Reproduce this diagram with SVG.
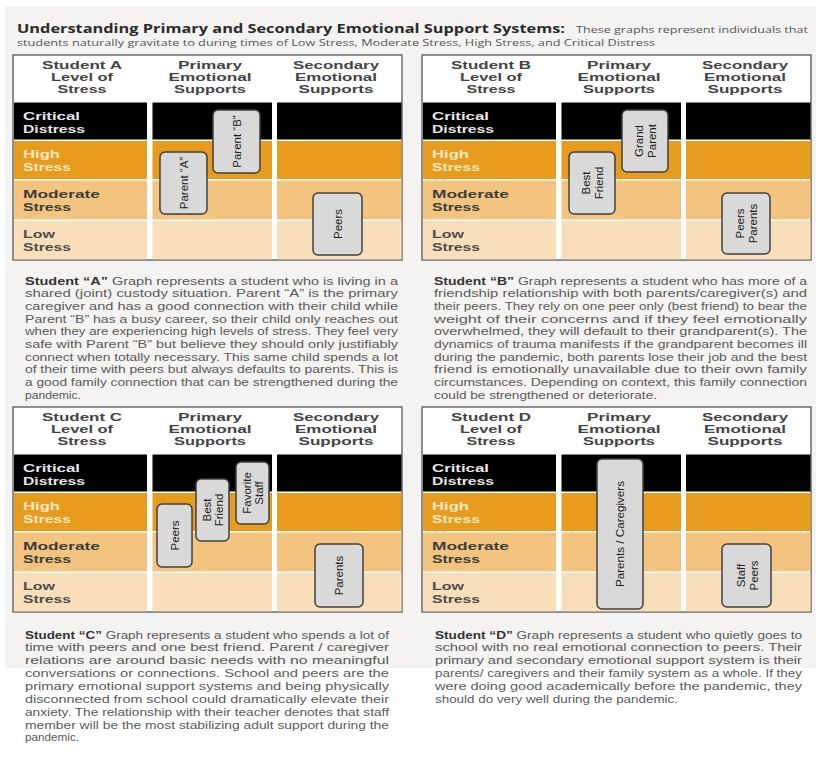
<svg xmlns="http://www.w3.org/2000/svg" width="820" height="761" viewBox="0 0 820 761">
<style>
.bg{fill:#f4f3f1}
.frame{fill:#fff;stroke:#6b6b6b;stroke-width:1.5}
.crit{fill:#000}
.high{fill:#e89c1d}
.mod{fill:#f2c47f}
.low{fill:#f8dfba}
.hd{font-family:"Liberation Sans",Arial,sans-serif;font-weight:bold;font-size:11px;fill:#444;text-anchor:middle}
.rl{font-family:"Liberation Sans",Arial,sans-serif;font-weight:bold;font-size:11.5px}
.rc{fill:#e6e6e6}
.rh{fill:#fce8c6}
.rm{fill:#3d3d3d}
.rw{fill:#4d4d4d}
.box{fill:#d9d9d9;stroke:#404040;stroke-width:1.5}
.bt{font-family:"Liberation Sans",Arial,sans-serif;font-size:11.5px;fill:#222;text-anchor:middle}
.p{font-family:"Liberation Sans",Arial,sans-serif;font-size:11px;fill:#5a5a5a}
.b{font-weight:bold;fill:#333}
.title{font-family:"Open Sans","DejaVu Sans",sans-serif;font-weight:700;font-size:13px;fill:#2b2b2b}
.sub{font-family:"Open Sans","DejaVu Sans",sans-serif;font-size:9.5px;fill:#555}
</style>
<rect class="bg" x="5" y="6" width="811" height="662"/>

<g id="title">
<text class="title" x="17" y="33" textLength="548" lengthAdjust="spacingAndGlyphs">Understanding Primary and Secondary Emotional Support Systems:</text>
<text class="sub" x="576" y="33" textLength="232" lengthAdjust="spacingAndGlyphs">These graphs represent individuals that</text>
<text class="sub" x="17" y="46" textLength="638" lengthAdjust="spacingAndGlyphs">students naturally gravitate to during times of Low Stress, Moderate Stress, High Stress, and Critical Distress</text>
</g>

<!-- Panel A -->
<g id="panel-a">
<rect class="frame" x="13" y="55" width="389" height="205"/>
<rect class="crit" x="14" y="102.5" width="133" height="37"/><rect class="crit" x="152.5" y="102.5" width="119.5" height="37"/><rect class="crit" x="277" y="102.5" width="124.5" height="37"/>
<rect class="high" x="14" y="141" width="133" height="38"/><rect class="high" x="152.5" y="141" width="119.5" height="38"/><rect class="high" x="277" y="141" width="124.5" height="38"/>
<rect class="mod" x="14" y="180.5" width="133" height="39"/><rect class="mod" x="152.5" y="180.5" width="119.5" height="39"/><rect class="mod" x="277" y="180.5" width="124.5" height="39"/>
<rect class="low" x="14" y="221" width="133" height="38.3"/><rect class="low" x="152.5" y="221" width="119.5" height="38.3"/><rect class="low" x="277" y="221" width="124.5" height="38.3"/>
<text class="hd"><tspan x="82" y="69" textLength="80" lengthAdjust="spacingAndGlyphs">Student A</tspan><tspan x="82" y="81" textLength="62" lengthAdjust="spacingAndGlyphs">Level of</tspan><tspan x="82" y="93" textLength="49" lengthAdjust="spacingAndGlyphs">Stress</tspan></text>
<text class="hd"><tspan x="210" y="69" textLength="64" lengthAdjust="spacingAndGlyphs">Primary</tspan><tspan x="210" y="81" textLength="83" lengthAdjust="spacingAndGlyphs">Emotional</tspan><tspan x="210" y="93" textLength="72" lengthAdjust="spacingAndGlyphs">Supports</tspan></text>
<text class="hd"><tspan x="336" y="69" textLength="86" lengthAdjust="spacingAndGlyphs">Secondary</tspan><tspan x="336" y="81" textLength="82" lengthAdjust="spacingAndGlyphs">Emotional</tspan><tspan x="336" y="93" textLength="75" lengthAdjust="spacingAndGlyphs">Supports</tspan></text>
<text class="rl rc"><tspan x="23" y="119.5" textLength="57" lengthAdjust="spacingAndGlyphs">Critical</tspan><tspan x="23" y="132.5" textLength="62" lengthAdjust="spacingAndGlyphs">Distress</tspan></text>
<text class="rl rh"><tspan x="23" y="158" textLength="37" lengthAdjust="spacingAndGlyphs">High</tspan><tspan x="23" y="171" textLength="48" lengthAdjust="spacingAndGlyphs">Stress</tspan></text>
<text class="rl rm"><tspan x="23" y="198" textLength="77" lengthAdjust="spacingAndGlyphs">Moderate</tspan><tspan x="23" y="211" textLength="48" lengthAdjust="spacingAndGlyphs">Stress</tspan></text>
<text class="rl rw"><tspan x="23" y="238" textLength="32" lengthAdjust="spacingAndGlyphs">Low</tspan><tspan x="23" y="251" textLength="48" lengthAdjust="spacingAndGlyphs">Stress</tspan></text>
<g id="a-parent-a"><rect class="box" x="160" y="152" width="47" height="62" rx="5"/><text class="bt" transform="translate(183.5,183) rotate(-90)" y="4">Parent “A”</text></g>
<g id="a-parent-b"><rect class="box" x="213" y="110" width="47" height="63" rx="5"/><text class="bt" transform="translate(236.5,141.5) rotate(-90)" y="4">Parent “B”</text></g>
<g id="a-peers"><rect class="box" x="313" y="193" width="49" height="62" rx="5"/><text class="bt" transform="translate(337.5,224) rotate(-90)" y="4">Peers</text></g>
</g>

<!-- Panel B -->
<g id="panel-b" transform="translate(409,0)">
<rect class="frame" x="13" y="55" width="389" height="205"/>
<rect class="crit" x="14" y="102.5" width="133" height="37"/><rect class="crit" x="152.5" y="102.5" width="119.5" height="37"/><rect class="crit" x="277" y="102.5" width="124.5" height="37"/>
<rect class="high" x="14" y="141" width="133" height="38"/><rect class="high" x="152.5" y="141" width="119.5" height="38"/><rect class="high" x="277" y="141" width="124.5" height="38"/>
<rect class="mod" x="14" y="180.5" width="133" height="39"/><rect class="mod" x="152.5" y="180.5" width="119.5" height="39"/><rect class="mod" x="277" y="180.5" width="124.5" height="39"/>
<rect class="low" x="14" y="221" width="133" height="38.3"/><rect class="low" x="152.5" y="221" width="119.5" height="38.3"/><rect class="low" x="277" y="221" width="124.5" height="38.3"/>
<text class="hd"><tspan x="82" y="69" textLength="80" lengthAdjust="spacingAndGlyphs">Student B</tspan><tspan x="82" y="81" textLength="62" lengthAdjust="spacingAndGlyphs">Level of</tspan><tspan x="82" y="93" textLength="49" lengthAdjust="spacingAndGlyphs">Stress</tspan></text>
<text class="hd"><tspan x="210" y="69" textLength="64" lengthAdjust="spacingAndGlyphs">Primary</tspan><tspan x="210" y="81" textLength="83" lengthAdjust="spacingAndGlyphs">Emotional</tspan><tspan x="210" y="93" textLength="72" lengthAdjust="spacingAndGlyphs">Supports</tspan></text>
<text class="hd"><tspan x="336" y="69" textLength="86" lengthAdjust="spacingAndGlyphs">Secondary</tspan><tspan x="336" y="81" textLength="82" lengthAdjust="spacingAndGlyphs">Emotional</tspan><tspan x="336" y="93" textLength="75" lengthAdjust="spacingAndGlyphs">Supports</tspan></text>
<text class="rl rc"><tspan x="23" y="119.5" textLength="57" lengthAdjust="spacingAndGlyphs">Critical</tspan><tspan x="23" y="132.5" textLength="62" lengthAdjust="spacingAndGlyphs">Distress</tspan></text>
<text class="rl rh"><tspan x="23" y="158" textLength="37" lengthAdjust="spacingAndGlyphs">High</tspan><tspan x="23" y="171" textLength="48" lengthAdjust="spacingAndGlyphs">Stress</tspan></text>
<text class="rl rm"><tspan x="23" y="198" textLength="77" lengthAdjust="spacingAndGlyphs">Moderate</tspan><tspan x="23" y="211" textLength="48" lengthAdjust="spacingAndGlyphs">Stress</tspan></text>
<text class="rl rw"><tspan x="23" y="238" textLength="32" lengthAdjust="spacingAndGlyphs">Low</tspan><tspan x="23" y="251" textLength="48" lengthAdjust="spacingAndGlyphs">Stress</tspan></text>
<g id="b-best-friend"><rect class="box" x="160" y="152" width="46" height="62" rx="5"/><text class="bt" transform="translate(183,183) rotate(-90)"><tspan x="0" y="-2">Best</tspan><tspan x="0" y="11">Friend</tspan></text></g>
<g id="b-grand-parent"><rect class="box" x="213" y="110" width="46" height="62" rx="5"/><text class="bt" transform="translate(236,141) rotate(-90)"><tspan x="0" y="-2">Grand</tspan><tspan x="0" y="11">Parent</tspan></text></g>
<g id="b-peers-parents"><rect class="box" x="313" y="193" width="48" height="61" rx="5"/><text class="bt" transform="translate(337,223.5) rotate(-90)"><tspan x="0" y="-2">Peers</tspan><tspan x="0" y="11">Parents</tspan></text></g>
</g>

<!-- Panel C -->
<g id="panel-c" transform="translate(0,352)">
<rect class="frame" x="13" y="55" width="389" height="205"/>
<rect class="crit" x="14" y="102.5" width="133" height="37"/><rect class="crit" x="152.5" y="102.5" width="119.5" height="37"/><rect class="crit" x="277" y="102.5" width="124.5" height="37"/>
<rect class="high" x="14" y="141" width="133" height="38"/><rect class="high" x="152.5" y="141" width="119.5" height="38"/><rect class="high" x="277" y="141" width="124.5" height="38"/>
<rect class="mod" x="14" y="180.5" width="133" height="39"/><rect class="mod" x="152.5" y="180.5" width="119.5" height="39"/><rect class="mod" x="277" y="180.5" width="124.5" height="39"/>
<rect class="low" x="14" y="221" width="133" height="38.3"/><rect class="low" x="152.5" y="221" width="119.5" height="38.3"/><rect class="low" x="277" y="221" width="124.5" height="38.3"/>
<text class="hd"><tspan x="82" y="69" textLength="80" lengthAdjust="spacingAndGlyphs">Student C</tspan><tspan x="82" y="81" textLength="62" lengthAdjust="spacingAndGlyphs">Level of</tspan><tspan x="82" y="93" textLength="49" lengthAdjust="spacingAndGlyphs">Stress</tspan></text>
<text class="hd"><tspan x="210" y="69" textLength="64" lengthAdjust="spacingAndGlyphs">Primary</tspan><tspan x="210" y="81" textLength="83" lengthAdjust="spacingAndGlyphs">Emotional</tspan><tspan x="210" y="93" textLength="72" lengthAdjust="spacingAndGlyphs">Supports</tspan></text>
<text class="hd"><tspan x="336" y="69" textLength="86" lengthAdjust="spacingAndGlyphs">Secondary</tspan><tspan x="336" y="81" textLength="82" lengthAdjust="spacingAndGlyphs">Emotional</tspan><tspan x="336" y="93" textLength="75" lengthAdjust="spacingAndGlyphs">Supports</tspan></text>
<text class="rl rc"><tspan x="23" y="119.5" textLength="57" lengthAdjust="spacingAndGlyphs">Critical</tspan><tspan x="23" y="132.5" textLength="62" lengthAdjust="spacingAndGlyphs">Distress</tspan></text>
<text class="rl rh"><tspan x="23" y="158" textLength="37" lengthAdjust="spacingAndGlyphs">High</tspan><tspan x="23" y="171" textLength="48" lengthAdjust="spacingAndGlyphs">Stress</tspan></text>
<text class="rl rm"><tspan x="23" y="198" textLength="77" lengthAdjust="spacingAndGlyphs">Moderate</tspan><tspan x="23" y="211" textLength="48" lengthAdjust="spacingAndGlyphs">Stress</tspan></text>
<text class="rl rw"><tspan x="23" y="238" textLength="32" lengthAdjust="spacingAndGlyphs">Low</tspan><tspan x="23" y="251" textLength="48" lengthAdjust="spacingAndGlyphs">Stress</tspan></text>
<g id="c-peers"><rect class="box" x="157" y="152" width="35" height="63" rx="5"/><text class="bt" transform="translate(174.5,183.5) rotate(-90)" y="4">Peers</text></g>
<g id="c-best-friend"><rect class="box" x="196" y="127" width="33" height="62" rx="5"/><text class="bt" transform="translate(212.5,158) rotate(-90)"><tspan x="0" y="-2">Best</tspan><tspan x="0" y="10">Friend</tspan></text></g>
<g id="c-favorite-staff"><rect class="box" x="236" y="110" width="33" height="62" rx="5"/><text class="bt" transform="translate(252.5,141) rotate(-90)"><tspan x="0" y="-2">Favorite</tspan><tspan x="0" y="10">Staff</tspan></text></g>
<g id="c-parents"><rect class="box" x="315" y="192" width="48" height="63" rx="5"/><text class="bt" transform="translate(339,223.5) rotate(-90)" y="4">Parents</text></g>
</g>

<!-- Panel D -->
<g id="panel-d" transform="translate(409,352)">
<rect class="frame" x="13" y="55" width="389" height="205"/>
<rect class="crit" x="14" y="102.5" width="133" height="37"/><rect class="crit" x="152.5" y="102.5" width="119.5" height="37"/><rect class="crit" x="277" y="102.5" width="124.5" height="37"/>
<rect class="high" x="14" y="141" width="133" height="38"/><rect class="high" x="152.5" y="141" width="119.5" height="38"/><rect class="high" x="277" y="141" width="124.5" height="38"/>
<rect class="mod" x="14" y="180.5" width="133" height="39"/><rect class="mod" x="152.5" y="180.5" width="119.5" height="39"/><rect class="mod" x="277" y="180.5" width="124.5" height="39"/>
<rect class="low" x="14" y="221" width="133" height="38.3"/><rect class="low" x="152.5" y="221" width="119.5" height="38.3"/><rect class="low" x="277" y="221" width="124.5" height="38.3"/>
<text class="hd"><tspan x="82" y="69" textLength="80" lengthAdjust="spacingAndGlyphs">Student D</tspan><tspan x="82" y="81" textLength="62" lengthAdjust="spacingAndGlyphs">Level of</tspan><tspan x="82" y="93" textLength="49" lengthAdjust="spacingAndGlyphs">Stress</tspan></text>
<text class="hd"><tspan x="210" y="69" textLength="64" lengthAdjust="spacingAndGlyphs">Primary</tspan><tspan x="210" y="81" textLength="83" lengthAdjust="spacingAndGlyphs">Emotional</tspan><tspan x="210" y="93" textLength="72" lengthAdjust="spacingAndGlyphs">Supports</tspan></text>
<text class="hd"><tspan x="336" y="69" textLength="86" lengthAdjust="spacingAndGlyphs">Secondary</tspan><tspan x="336" y="81" textLength="82" lengthAdjust="spacingAndGlyphs">Emotional</tspan><tspan x="336" y="93" textLength="75" lengthAdjust="spacingAndGlyphs">Supports</tspan></text>
<text class="rl rc"><tspan x="23" y="119.5" textLength="57" lengthAdjust="spacingAndGlyphs">Critical</tspan><tspan x="23" y="132.5" textLength="62" lengthAdjust="spacingAndGlyphs">Distress</tspan></text>
<text class="rl rh"><tspan x="23" y="158" textLength="37" lengthAdjust="spacingAndGlyphs">High</tspan><tspan x="23" y="171" textLength="48" lengthAdjust="spacingAndGlyphs">Stress</tspan></text>
<text class="rl rm"><tspan x="23" y="198" textLength="77" lengthAdjust="spacingAndGlyphs">Moderate</tspan><tspan x="23" y="211" textLength="48" lengthAdjust="spacingAndGlyphs">Stress</tspan></text>
<text class="rl rw"><tspan x="23" y="238" textLength="32" lengthAdjust="spacingAndGlyphs">Low</tspan><tspan x="23" y="251" textLength="48" lengthAdjust="spacingAndGlyphs">Stress</tspan></text>
<g id="d-parents-caregivers"><rect class="box" x="188" y="107" width="46" height="150" rx="5"/><text class="bt" transform="translate(211,182) rotate(-90)" y="4" textLength="106" lengthAdjust="spacingAndGlyphs">Parents / Caregivers</text></g>
<g id="d-staff-peers"><rect class="box" x="313" y="192" width="49" height="63" rx="5"/><text class="bt" transform="translate(337.5,223.5) rotate(-90)"><tspan x="0" y="-2">Staff</tspan><tspan x="0" y="11">Peers</tspan></text></g>
</g>

<g id="text-a">
<text class="p" x="25" y="284.5" textLength="373" lengthAdjust="spacingAndGlyphs"><tspan class="b">Student “A”</tspan> Graph represents a student who is living in a</text>
<text class="p" x="25" y="297.2" textLength="373" lengthAdjust="spacingAndGlyphs">shared (joint) custody situation. Parent “A” is the primary</text>
<text class="p" x="25" y="309.8" textLength="373" lengthAdjust="spacingAndGlyphs">caregiver and has a good connection with their child while</text>
<text class="p" x="25" y="322.5" textLength="373" lengthAdjust="spacingAndGlyphs">Parent “B” has a busy career, so their child only reaches out</text>
<text class="p" x="25" y="335.2" textLength="373" lengthAdjust="spacingAndGlyphs">when they are experiencing high levels of stress. They feel very</text>
<text class="p" x="25" y="347.9" textLength="373" lengthAdjust="spacingAndGlyphs">safe with Parent “B” but believe they should only justifiably</text>
<text class="p" x="25" y="360.5" textLength="373" lengthAdjust="spacingAndGlyphs">connect when totally necessary. This same child spends a lot</text>
<text class="p" x="25" y="373.2" textLength="373" lengthAdjust="spacingAndGlyphs">of their time with peers but always defaults to parents. This is</text>
<text class="p" x="25" y="385.9" textLength="373" lengthAdjust="spacingAndGlyphs">a good family connection that can be strengthened during the</text>
<text class="p" x="25" y="398.5" textLength="56" lengthAdjust="spacingAndGlyphs">pandemic.</text>
</g>

<g id="text-b">
<text class="p" x="434" y="284.5" textLength="373" lengthAdjust="spacingAndGlyphs"><tspan class="b">Student “B”</tspan> Graph represents a student who has more of a</text>
<text class="p" x="434" y="297.2" textLength="373" lengthAdjust="spacingAndGlyphs">friendship relationship with both parents/caregiver(s) and</text>
<text class="p" x="434" y="309.8" textLength="373" lengthAdjust="spacingAndGlyphs">their peers. They rely on one peer only (best friend) to bear the</text>
<text class="p" x="434" y="322.5" textLength="373" lengthAdjust="spacingAndGlyphs">weight of their concerns and if they feel emotionally</text>
<text class="p" x="434" y="335.2" textLength="373" lengthAdjust="spacingAndGlyphs">overwhelmed, they will default to their grandparent(s). The</text>
<text class="p" x="434" y="347.9" textLength="373" lengthAdjust="spacingAndGlyphs">dynamics of trauma manifests if the grandparent becomes ill</text>
<text class="p" x="434" y="360.5" textLength="373" lengthAdjust="spacingAndGlyphs">during the pandemic, both parents lose their job and the best</text>
<text class="p" x="434" y="373.2" textLength="373" lengthAdjust="spacingAndGlyphs">friend is emotionally unavailable due to their own family</text>
<text class="p" x="434" y="385.9" textLength="373" lengthAdjust="spacingAndGlyphs">circumstances. Depending on context, this family connection</text>
<text class="p" x="434" y="398.5" textLength="223" lengthAdjust="spacingAndGlyphs">could be strengthened or deteriorate.</text>
</g>

<g id="text-c">
<text class="p" x="25" y="638.5" textLength="364" lengthAdjust="spacingAndGlyphs"><tspan class="b">Student “C”</tspan> Graph represents a student who spends a lot of</text>
<text class="p" x="25" y="651.4" textLength="364" lengthAdjust="spacingAndGlyphs">time with peers and one best friend. Parent / caregiver</text>
<text class="p" x="25" y="664.2" textLength="364" lengthAdjust="spacingAndGlyphs">relations are around basic needs with no meaningful</text>
<text class="p" x="25" y="677.1" textLength="364" lengthAdjust="spacingAndGlyphs">conversations or connections. School and peers are the</text>
<text class="p" x="25" y="689.9" textLength="364" lengthAdjust="spacingAndGlyphs">primary emotional support systems and being physically</text>
<text class="p" x="25" y="702.8" textLength="364" lengthAdjust="spacingAndGlyphs">disconnected from school could dramatically elevate their</text>
<text class="p" x="25" y="715.6" textLength="364" lengthAdjust="spacingAndGlyphs">anxiety. The relationship with their teacher denotes that staff</text>
<text class="p" x="25" y="728.5" textLength="364" lengthAdjust="spacingAndGlyphs">member will be the most stabilizing adult support during the</text>
<text class="p" x="25" y="741.3" textLength="54" lengthAdjust="spacingAndGlyphs">pandemic.</text>
</g>

<g id="text-d">
<text class="p" x="435" y="638.5" textLength="367" lengthAdjust="spacingAndGlyphs"><tspan class="b">Student “D”</tspan> Graph represents a student who quietly goes to</text>
<text class="p" x="435" y="651.4" textLength="367" lengthAdjust="spacingAndGlyphs">school with no real emotional connection to peers. Their</text>
<text class="p" x="435" y="664.2" textLength="367" lengthAdjust="spacingAndGlyphs">primary and secondary emotional support system is their</text>
<text class="p" x="435" y="677.1" textLength="367" lengthAdjust="spacingAndGlyphs">parents/ caregivers and their family system as a whole. If they</text>
<text class="p" x="435" y="689.9" textLength="367" lengthAdjust="spacingAndGlyphs">were doing good academically before the pandemic, they</text>
<text class="p" x="435" y="702.8" textLength="243" lengthAdjust="spacingAndGlyphs">should do very well during the pandemic.</text>
</g>
</svg>
